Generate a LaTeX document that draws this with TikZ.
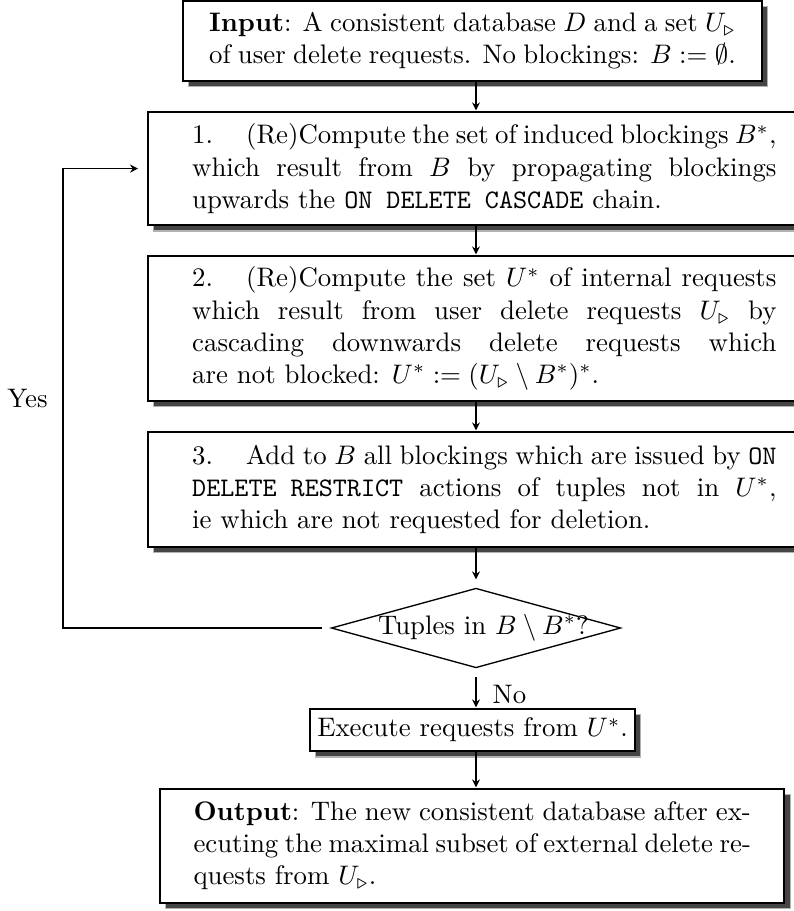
\documentclass[tikz,border=0pt]{standalone}
\usetikzlibrary{shapes.geometric,shadows,arrows.meta}
\begin{document}
\begin{tikzpicture}[x=0.37313pt, y=-0.37313pt,
  every node/.style={font=\fontsize{10}{12}\selectfont},
  shadowed/.style={drop shadow={shadow xshift=2.1pt, shadow yshift=-2.2pt,
      fill=black!73, draw=black!30, line width=0.4pt, opacity=1}},
  boxst/.style={draw, line width=0.75pt, fill=white, shadowed,
      inner sep=0pt, outer sep=0pt, anchor=north west},
  para/.style={boxst, align=justify,
      execute at begin node={\hyphenpenalty=10000 \tolerance=9999 }},
  decision/.style={diamond, draw, line width=0.5pt, inner sep=0pt, outer sep=0pt},
  arr/.style={line width=0.5pt, -{Stealth[length=3pt, width=3pt, inset=1pt]}},
  lbl/.style={inner sep=0pt}]
\useasboundingbox (0,0) rectangle (794,911);
\clip (0,0) rectangle (794,911);
\coordinate (col) at (476,0);
\coordinate (lx) at (63,0);

\node[para, text width=196.5pt, minimum width=216pt, minimum height=29.85pt] (in) at (183,1)
  {\textbf{Input}: A consistent database $D$ and a set $U_\triangleright$\linebreak
   of user delete requests. No blockings: $B := \emptyset$.};

\node[para, text width=218pt, minimum width=251pt, minimum height=42.2pt] (b1) at (148,112)
  {\hangindent=20.1pt\hangafter=1\noindent\makebox[20.1pt][l]{1.}(Re)Compute the set of induced blockings $B^*$,\linebreak
   which result from $B$ by propagating blockings\linebreak
   upwards the \texttt{ON DELETE CASCADE} chain.};

\node[para, text width=218pt, minimum width=251pt, minimum height=54.1pt] (b2) at (148,256)
  {\hangindent=20.1pt\hangafter=1\noindent\makebox[20.1pt][l]{2.}(Re)Compute the set $U^*$ of internal requests\linebreak
   which result from user delete requests $U_\triangleright$ by\linebreak
   cascading downwards delete requests which\linebreak
   are not blocked: $U^* := (U_\triangleright \setminus B^*)^*$.};

\node[para, text width=218pt, minimum width=251pt, minimum height=42.9pt] (b3) at (148,432)
  {\hangindent=20.1pt\hangafter=1\noindent\makebox[20.1pt][l]{3.}Add to $B$ all blockings which are issued by \texttt{ON}\linebreak
   \texttt{DELETE RESTRICT} actions of tuples not in $U^*$,\linebreak
   ie which are not requested for deletion.};

\node[decision, minimum width=107.8pt, minimum height=29.5pt] (dia) at (476,628)
  {\makebox[0pt]{\kern5.6pt Tuples in $B \setminus B^*$?}};

\node[boxst, minimum width=121.3pt, minimum height=15.7pt] (ex) at (310,709)
  {Execute requests from $U^*$.};

\node[para, text width=208pt, minimum width=233pt, minimum height=42.5pt] (out) at (160,789)
  {\textbf{Output}: The new consistent database after ex-\linebreak
   ecuting the maximal subset of external delete re-\linebreak
   quests from $U_\triangleright$.};

\draw[arr, shorten >=0.6pt] (in.south -| col) -- (b1.north -| col);
\draw[arr, shorten >=0.6pt] (b1.south -| col) -- (b2.north -| col);
\draw[arr, shorten >=0.6pt] (b2.south -| col) -- (b3.north -| col);
\draw[arr, shorten >=3.4pt] (b3.south -| col) -- (dia.north);
\draw[arr, shorten <=3.4pt, shorten >=0.6pt] (dia.south) --
  node[lbl, pos=0.65, right=6pt] {No} (ex.north -| col);
\draw[arr, shorten >=0.6pt] (ex.south -| col) -- (out.north -| col);
\draw[arr, shorten <=3.4pt, shorten >=3.7pt] (dia.west) -- (dia.west -| lx)
  -- node[lbl, left=5.5pt] {Yes} (b1.west -| lx) -- (b1.west);
\end{tikzpicture}
\end{document}
